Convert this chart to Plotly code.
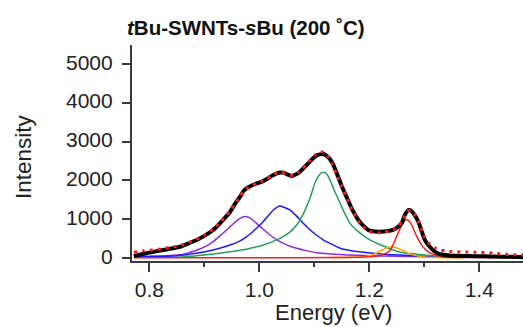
import plotly.graph_objects as go

# ---- data ----
data_energy = [0.772, 0.79, 0.81, 0.826, 0.84, 0.856, 0.87, 0.886, 0.90, 0.916, 0.93, 0.947, 0.956,
               0.965, 0.972, 0.980, 0.988, 0.995, 1.004, 1.013, 1.022, 1.032, 1.038, 1.044, 1.052,
               1.059, 1.066, 1.074, 1.082, 1.089, 1.097, 1.104, 1.110, 1.116, 1.122, 1.128, 1.134,
               1.141, 1.150, 1.160, 1.170, 1.180, 1.190, 1.198, 1.206, 1.216, 1.226, 1.236, 1.244,
               1.252, 1.259, 1.265, 1.271, 1.277, 1.283, 1.289, 1.295, 1.301, 1.310, 1.319, 1.328,
               1.337, 1.35, 1.365, 1.38, 1.40, 1.42, 1.44, 1.46, 1.48]
data_intensity = [45, 110, 165, 206, 245, 291, 370, 464, 570, 722, 920, 1193, 1400,
                  1580, 1740, 1822, 1880, 1925, 1960, 2028, 2110, 2183, 2205, 2200, 2150,
                  2113, 2150, 2225, 2340, 2440, 2560, 2640, 2670, 2680, 2640, 2560, 2420,
                  2180, 1850, 1530, 1220, 980, 820, 722, 690, 678, 685, 700, 730,
                  800, 900, 1120, 1235, 1210, 1100, 940, 700, 464, 290, 163, 100,
                  77, 60, 55, 52, 45, 40, 35, 30, 20]

fit_energy = [0.772, 0.79, 0.81, 0.826, 0.84, 0.856, 0.87, 0.886, 0.90, 0.916, 0.93, 0.947, 0.956,
              0.965, 0.972, 0.980, 0.988, 0.995, 1.004, 1.013, 1.022, 1.032, 1.040, 1.048, 1.056,
              1.062, 1.070, 1.078, 1.086, 1.094, 1.102, 1.108, 1.114, 1.120, 1.126, 1.132, 1.140,
              1.150, 1.160, 1.170, 1.180, 1.190, 1.198, 1.206, 1.216, 1.226, 1.236, 1.244, 1.252,
              1.259, 1.265, 1.271, 1.277, 1.283, 1.289, 1.295, 1.301, 1.310, 1.319, 1.328, 1.337,
              1.35, 1.37, 1.39, 1.41, 1.43, 1.45, 1.47, 1.48]
fit_intensity = [150, 185, 215, 245, 280, 320, 390, 480, 590, 740, 940, 1210, 1400,
                 1590, 1730, 1820, 1880, 1925, 1975, 2040, 2120, 2190, 2205, 2175, 2130,
                 2135, 2200, 2300, 2420, 2550, 2660, 2720, 2735, 2700, 2600, 2440, 2180,
                 1850, 1520, 1200, 960, 790, 700, 660, 650, 660, 690, 730, 810,
                 930, 1100, 1215, 1220, 1120, 950, 720, 520, 360, 260, 210, 185,
                 165, 155, 150, 140, 120, 95, 80, 75]

purple_energy = [0.772, 0.80, 0.825, 0.862, 0.886, 0.905, 0.916, 0.930, 0.947, 0.958, 0.965, 0.9735,
                 0.982, 0.995, 1.007, 1.0195, 1.032, 1.044, 1.056, 1.068, 1.085, 1.104, 1.13, 1.16,
                 1.20, 1.25, 1.30, 1.35, 1.40, 1.48]
purple_intensity = [30, 42, 55, 100, 200, 320, 420, 590, 807, 950, 1023, 1070,
                    1040, 894, 740, 593, 470, 378, 305, 250, 190, 137, 105, 80,
                    60, 45, 35, 25, 20, 15]

blue_energy = [0.772, 0.82, 0.852, 0.885, 0.916, 0.947, 0.965, 0.977, 0.992, 1.007, 1.017, 1.0255,
               1.0376, 1.046, 1.056, 1.068, 1.080, 1.092, 1.104, 1.116, 1.1285, 1.147, 1.17, 1.1965,
               1.225, 1.256, 1.31, 1.36, 1.42, 1.48]
blue_intensity = [35, 45, 60, 120, 206, 335, 440, 550, 730, 936, 1100, 1237,
                  1340, 1300, 1237, 1080, 894, 730, 593, 470, 378, 250, 180, 137,
                  100, 77, 40, 30, 20, 15]

green_energy = [0.85, 0.90, 0.947, 0.98, 1.007, 1.0376, 1.055, 1.068, 1.078, 1.086, 1.094, 1.101,
                1.108, 1.1135, 1.118, 1.123, 1.1285, 1.137, 1.147, 1.156, 1.165, 1.18, 1.1965,
                1.2255, 1.256, 1.286, 1.316, 1.336]
green_intensity = [18, 80, 163, 240, 335, 507, 660, 850, 1080, 1325, 1620, 1925,
                   2120, 2200, 2210, 2160, 2010, 1720, 1410, 1130, 894, 680, 507,
                   309, 150, 100, 60, 40]

orange_energy = [1.13, 1.16, 1.19, 1.205, 1.22, 1.232, 1.24, 1.248, 1.26, 1.275, 1.2945, 1.32, 1.37]
orange_intensity = [10, 15, 34, 80, 180, 260, 291, 270, 200, 100, 34, 10, 5]

red_energy = [0.772, 1.0, 1.14, 1.20, 1.222, 1.238, 1.252, 1.261, 1.266, 1.270, 1.276, 1.2865,
              1.297, 1.3067, 1.318, 1.331, 1.36, 1.40, 1.48]
red_intensity = [5, 5, 10, 30, 77, 200, 636, 900, 975, 980, 880, 550,
                 300, 163, 80, 34, 15, 10, 5]

x_ticks = [0.8, 1.0, 1.2, 1.4]
x_tick_labels = ["0.8", "1.0", "1.2", "1.4"]
y_ticks = [0, 1000, 2000, 3000, 4000, 5000]
y_tick_labels = ["0", "1000", "2000", "3000", "4000", "5000"]

title_text = "<b><i>t</i>Bu-SWNTs-<i>s</i>Bu (200 ˚C)</b>"
x_title = "Energy (eV)"
y_title = "Intensity"

# ---- figure ----
FONT = "Liberation Sans, Arial, sans-serif"
fig = go.Figure()

components = [
    (purple_energy, purple_intensity, "#8a2be2"),
    (blue_energy, blue_intensity, "#1a1aff"),
    (green_energy, green_intensity, "#22a05a"),
    (orange_energy, orange_intensity, "#ffa500"),
    (red_energy, red_intensity, "#ff1a1a"),
]
for xs, ys, col in components:
    fig.add_trace(go.Scatter(x=xs, y=ys, mode="lines",
                             line=dict(color=col, width=1.5, shape="spline", smoothing=0.6),
                             showlegend=False, hoverinfo="skip"))

fig.add_trace(go.Scatter(x=data_energy, y=data_intensity, mode="lines",
                         line=dict(color="black", width=4, shape="spline", smoothing=0.5),
                         showlegend=False))
fig.add_trace(go.Scatter(x=fit_energy, y=fit_intensity, mode="lines",
                         line=dict(color="#ff1a1a", width=3, dash="3px,5px",
                                   shape="spline", smoothing=0.5),
                         showlegend=False))

annotations = [
    dict(text=title_text, xref="paper", yref="paper", x=0.2916, y=1.083,
         xanchor="center", yanchor="middle", showarrow=False,
         font=dict(size=20.5, family=FONT, color="#111")),
    dict(text=x_title, xref="paper", yref="paper", x=0.5166, y=-0.2407,
         xanchor="center", yanchor="middle", showarrow=False,
         font=dict(size=22, family=FONT, color="#222")),
    dict(text=y_title, xref="paper", yref="paper", x=-0.276, y=0.4815,
         xanchor="center", yanchor="middle", showarrow=False, textangle=-90,
         font=dict(size=22.5, family=FONT, color="#222")),
]
# y tick labels placed on the y scale, with the wider gap seen in the reference
for v, lab in zip(y_ticks, y_tick_labels):
    annotations.append(dict(text=lab, xref="paper", yref="y", x=0, y=v,
                            xanchor="right", yanchor="middle", xshift=-17, yshift=2,
                            showarrow=False,
                            font=dict(size=21, family=FONT, color="#222")))

axis_color = "#3a3a3a"
fig.update_layout(
    width=523, height=327,
    margin=dict(l=132, r=0, t=45, b=66),
    paper_bgcolor="white", plot_bgcolor="white",
    font=dict(family=FONT, color="#222"),
    xaxis=dict(range=[0.7685, 1.4795], showgrid=False, zeroline=False,
               showline=True, linecolor=axis_color, linewidth=2,
               ticks="outside", ticklen=9, tickwidth=1.5, tickcolor=axis_color,
               tickvals=x_ticks, ticktext=x_tick_labels,
               tickfont=dict(size=21, family=FONT, color="#222"),
               minor=dict(dtick=0.1, tick0=0.8, ticks="outside", ticklen=4,
                          tickwidth=1.5, tickcolor=axis_color, showgrid=False)),
    yaxis=dict(range=[-77, 5490], showgrid=False, zeroline=False,
               showline=True, linecolor=axis_color, linewidth=2,
               ticks="outside", ticklen=8, tickwidth=1.5, tickcolor=axis_color,
               tickvals=y_ticks, showticklabels=False),
    annotations=annotations,
)

fig.write_html("out.html")
